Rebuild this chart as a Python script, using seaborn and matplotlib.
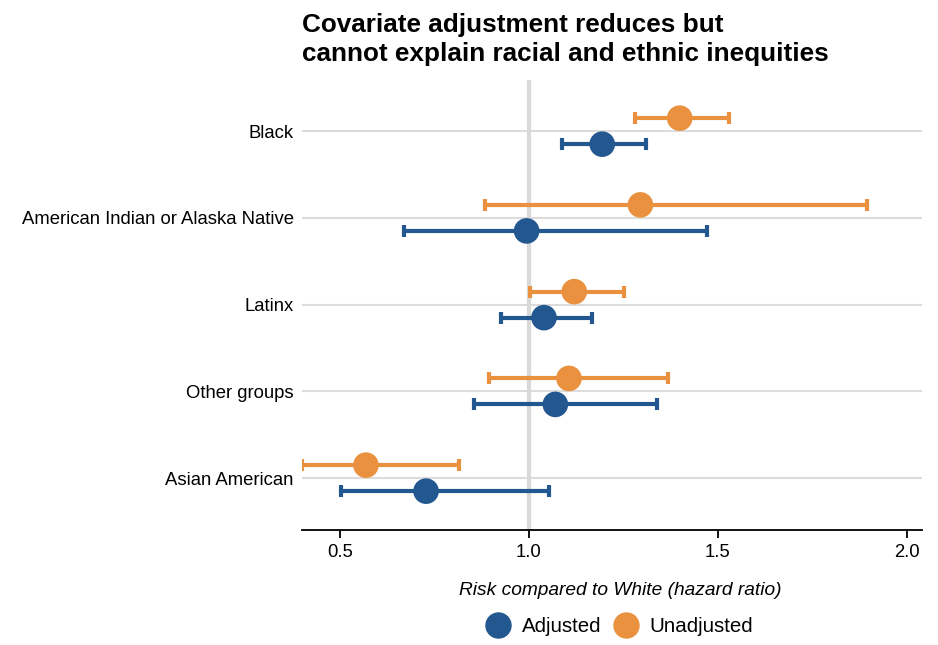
import numpy as np
import pandas as pd
import seaborn as sns
import matplotlib.pyplot as plt
from matplotlib.lines import Line2D

groups = ["Black", "American Indian or Alaska Native", "Latinx", "Other groups", "Asian American"]

adj_hr = [1.194, 0.994, 1.040, 1.070, 0.728]
adj_lo = [1.088, 0.671, 0.927, 0.855, 0.503]
adj_hi = [1.310, 1.472, 1.166, 1.338, 1.053]

unadj_hr = [1.399, 1.295, 1.120, 1.106, 0.569]
unadj_lo = [1.280, 0.885, 1.002, 0.895, 0.399]
unadj_hi = [1.529, 1.895, 1.252, 1.367, 0.815]

BLUE = "#235790"
ORANGE = "#e9913f"

sns.set_style("white")
plt.rcParams['font.family'] = ['Liberation Sans', 'DejaVu Sans']
plt.rcParams['text.color'] = 'black'
plt.rcParams['axes.labelcolor'] = 'black'
plt.rcParams['xtick.color'] = 'black'
plt.rcParams['ytick.color'] = 'black'

rows = []
for i, g in enumerate(groups):
    rows.append(dict(group=g, pos=i + 0.15, kind="Adjusted", hr=adj_hr[i], lo=adj_lo[i], hi=adj_hi[i]))
    rows.append(dict(group=g, pos=i - 0.15, kind="Unadjusted", hr=unadj_hr[i], lo=unadj_lo[i], hi=unadj_hi[i]))
df = pd.DataFrame(rows)

fig = plt.figure(figsize=(9.38, 6.45), dpi=100)
ax = fig.add_axes([0.322, 0.178, 0.661, 0.698])

# grid lines at each group + reference line at 1.0
for i in range(len(groups)):
    ax.axhline(i, color="#dcdcdc", lw=1.5, zorder=0)
ax.axvline(1.0, color="#d9d9d9", lw=3, zorder=0)

palette = {"Adjusted": BLUE, "Unadjusted": ORANGE}
for kind, sub in df.groupby("kind"):
    ax.errorbar(sub["hr"], sub["pos"],
                xerr=[sub["hr"] - sub["lo"], sub["hi"] - sub["hr"]],
                fmt="none", ecolor=palette[kind], elinewidth=3,
                capsize=4, capthick=3, zorder=2)

sns.scatterplot(data=df, x="hr", y="pos", hue="kind", palette=palette,
                s=340, edgecolor="none", legend=False, ax=ax, zorder=3)

ax.set_xlim(0.4, 2.04)
ax.set_ylim(len(groups) - 0.4, -0.59)
ax.set_yticks(range(len(groups)))
ax.set_yticklabels(groups, fontsize=13.3)
ax.set_xticks([0.5, 1.0, 1.5, 2.0])
ax.set_xticklabels(["0.5", "1.0", "1.5", "2.0"], fontsize=13.3)
ax.tick_params(axis="y", left=False, length=0, pad=6)
ax.tick_params(axis="x", bottom=True, length=6, width=1.3, direction="out", pad=4, color="black")
for s in ["top", "right", "left"]:
    ax.spines[s].set_visible(False)
ax.spines["bottom"].set_color("black")
ax.spines["bottom"].set_linewidth(1.3)

ax.set_xlabel("Risk compared to White (hazard ratio)", fontsize=13.8, style="italic")
ax.xaxis.set_label_coords(0.513, -0.115)
ax.set_ylabel("")

fig.text(0.322, 0.98, "Covariate adjustment reduces but\ncannot explain racial and ethnic inequities",
         fontsize=18.8, fontweight="bold", va="top", ha="left", linespacing=1.25)

handles = [Line2D([], [], marker="o", ls="none", color=BLUE, markersize=18),
           Line2D([], [], marker="o", ls="none", color=ORANGE, markersize=18)]
fig.legend(handles, ["Adjusted", "Unadjusted"], loc="center", bbox_to_anchor=(0.656, 0.028),
           ncol=2, frameon=False, fontsize=14.8, handletextpad=0.15, columnspacing=0.2)

fig.savefig("out.png", dpi=100)
